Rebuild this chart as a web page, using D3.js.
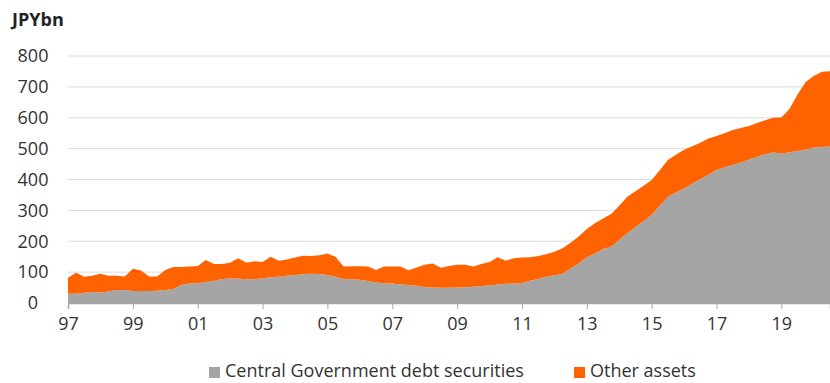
<!DOCTYPE html>
<html>
<head>
<meta charset="utf-8">
<script src="https://cdn.jsdelivr.net/npm/d3@7"></script>
<style>
  body { margin: 0; background: #fff; }
  svg { display: block; font-family: "Open Sans", sans-serif; }
</style>
</head>
<body>
<svg id="chart" width="830" height="383"></svg>
<script>
// quarterly, 1997Q1 .. 2020Q3
const startYear = 1997;
const govSecurities = [
  30, 30, 33, 36, 34, 37, 42, 42, 39, 39, 39, 40, 42, 45, 58, 64,
  64, 68, 71, 78, 79, 79, 77, 77, 80, 83, 85, 88, 91, 93, 95, 94,
  91, 85, 78, 77, 75, 71, 66, 64, 63, 60, 58, 56, 52, 50, 49, 49,
  50, 51, 53, 55, 57, 60, 62, 63, 65, 72, 78, 85, 90, 95, 112, 128,
  148, 160, 175, 182, 204, 226, 246, 265, 285, 315, 344, 358, 371, 386, 401, 415,
  431, 440, 447, 455, 465, 474, 482, 488, 483, 488, 492, 497, 504, 505, 507
];
const totalAssets = [
  82, 98, 85, 88, 95, 88, 88, 86, 111, 105, 86, 86, 107, 117, 117, 118,
  120, 139, 126, 126, 130, 145, 130, 135, 133, 150, 137, 141, 147, 153, 152, 155,
  160, 150, 118, 119, 119, 118, 107, 118, 118, 118, 106, 115, 124, 128, 114, 120,
  124, 124, 118, 126, 133, 148, 137, 145, 147, 148, 152, 158, 166, 177, 195, 215,
  240, 258, 274, 288, 315, 344, 362, 380, 398, 430, 463, 480, 496, 508, 519, 533,
  541, 550, 560, 567, 573, 583, 592, 600, 601, 628, 675, 716, 735, 749, 751
];
const otherAssets = totalAssets.map((t, i) => t - govSecurities[i]);
const seriesNames = ["Central Government debt securities", "Other assets"];
const colors = ["#a5a5a5", "#ff6200"];
const yTicks = [0, 100, 200, 300, 400, 500, 600, 700, 800];
const xTickLabels = ["97", "99", "01", "03", "05", "07", "09", "11", "13", "15", "17", "19"];

const svg = d3.select("#chart"),
  margin = {top: 56, right: 0, bottom: 80, left: 68},
  width = 830 - margin.left - margin.right,
  height = 383 - margin.top - margin.bottom;

const rows = govSecurities.map((g, i) => ({i: i, gov: g, other: otherAssets[i]}));
const stacked = d3.stack().keys(["gov", "other"])(rows);

const x = d3.scaleLinear().domain([0, rows.length - 1]).range([0, width]);
const y = d3.scaleLinear().domain([0, 800]).range([height, 0]);

const g = svg.append("g").attr("transform", `translate(${margin.left},${margin.top})`);

// gridlines
g.append("g")
  .selectAll("line")
  .data(yTicks.slice(1))
  .join("line")
    .attr("x1", 0).attr("x2", width)
    .attr("y1", d => y(d)).attr("y2", d => y(d))
    .attr("stroke", "#dcdcdc")
    .attr("stroke-width", 1);

const area = d3.area()
  .x(d => x(d.data.i))
  .y0(d => y(d[0]))
  .y1(d => y(d[1]));

g.selectAll("path.layer")
  .data(stacked)
  .join("path")
    .attr("class", "layer")
    .attr("fill", (d, k) => colors[k])
    .attr("d", area);

// y labels (centred)
svg.append("g")
  .selectAll("text")
  .data(yTicks)
  .join("text")
    .attr("x", 33)
    .attr("y", d => margin.top + y(d))
    .attr("dy", "0.35em")
    .attr("text-anchor", "middle")
    .attr("font-size", 18)
    .attr("fill", "#333")
    .text(d => d);

// x axis
const xTickIdx = xTickLabels.map((_, k) => k * 8);
const xAxis = g.append("g")
  .attr("transform", `translate(0,${height})`)
  .call(d3.axisBottom(x)
    .tickValues(xTickIdx)
    .tickSize(6)
    .tickPadding(8)
    .tickFormat((d, k) => xTickLabels[k]));
xAxis.select(".domain").attr("stroke", "#a6a6a6").attr("stroke-width", 1.5);
xAxis.selectAll(".tick line").attr("stroke", "#a6a6a6");
xAxis.selectAll(".tick text")
  .attr("font-size", 18)
  .attr("font-family", "Open Sans, sans-serif")
  .attr("fill", "#333");

// unit label
svg.append("text")
  .attr("x", 12).attr("y", 26)
  .attr("font-size", 18)
  .attr("font-weight", "bold")
  .attr("fill", "#222")
  .text("JPYbn");

// legend
const legendX = [209, 574];
const legend = svg.append("g");
seriesNames.forEach((name, k) => {
  legend.append("rect")
    .attr("x", legendX[k]).attr("y", 367)
    .attr("width", 11).attr("height", 11)
    .attr("fill", colors[k]);
  legend.append("text")
    .attr("x", legendX[k] + 16).attr("y", 377)
    .attr("font-size", 18)
    .attr("fill", "#333")
    .text(name);
});
</script>
</body>
</html>
